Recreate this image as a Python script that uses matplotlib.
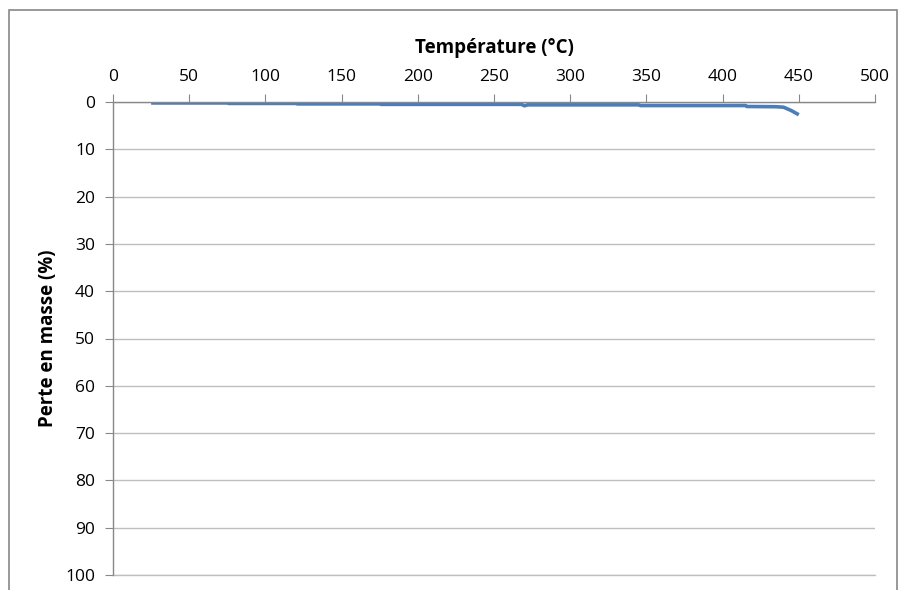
import matplotlib
matplotlib.use("Agg")
import matplotlib.pyplot as plt
from matplotlib.patches import Rectangle

plt.rcParams['font.family'] = ['Open Sans', 'DejaVu Sans']

temperature = [25, 75, 76, 120, 121, 175, 176, 268, 270, 272, 345, 346, 415, 416, 435, 440, 445, 450]
perte = [0.2, 0.2, 0.3, 0.3, 0.4, 0.4, 0.5, 0.5, 0.8, 0.6, 0.6, 0.75, 0.75, 0.95, 1.0, 1.1, 1.8, 2.7]
x_ticks = [0, 50, 100, 150, 200, 250, 300, 350, 400, 450, 500]
y_ticks = [0, 10, 20, 30, 40, 50, 60, 70, 80, 90, 100]

W, H = 899, 590
fig = plt.figure(figsize=(W / 100, H / 100), dpi=100)
fig.patches.append(Rectangle((9 / W, -0.05), (897 - 9) / W, 1 - 10 / H + 0.05,
                             transform=fig.transFigure, fill=False,
                             edgecolor='#888888', linewidth=1.2))

ax = fig.add_axes([113 / W, 1 - 575 / H, (875 - 113) / W, (575 - 102) / H])
ax.plot(temperature, perte, color='#4a7ebb', linewidth=2.6, solid_capstyle='butt')

ax.set_xlim(0, 500)
ax.set_ylim(100, 0)
ax.set_xticks(x_ticks)
ax.set_yticks(y_ticks)
ax.xaxis.set_ticks_position('top')
ax.xaxis.set_label_position('top')
ax.tick_params(axis='x', direction='out', length=6, color='#888888', labelsize=12.5, pad=6, labelcolor='#000000')
ax.tick_params(axis='y', direction='out', length=6, color='#888888', labelsize=12.5, pad=7, labelcolor='#000000')
ax.grid(axis='y', color='#bfbfbf', linewidth=1)
ax.axhline(100, color='#bfbfbf', linewidth=1, clip_on=False, zorder=0.5)
ax.set_axisbelow(True)
for s in ['right', 'bottom']:
    ax.spines[s].set_visible(False)
for s in ['left', 'top']:
    ax.spines[s].set_color('#888888')
    ax.spines[s].set_linewidth(1)

ax.set_xlabel('Température (°C)', fontsize=13.5, fontweight='bold', labelpad=12)
ax.set_ylabel('Perte en masse (%)', fontsize=13.5, fontweight='bold', labelpad=5)

fig.savefig('out.png', dpi=100)
